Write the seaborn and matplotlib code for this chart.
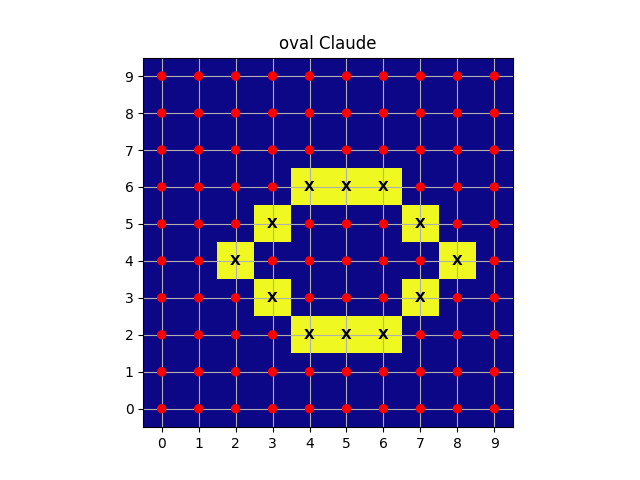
import numpy as np
import pandas as pd
import matplotlib
matplotlib.use("Agg")
import matplotlib.pyplot as plt
import seaborn as sns

# cells that are "on" in the 10x10 grid
on_x = [4, 5, 6, 3, 7, 2, 8, 3, 7, 4, 5, 6]
on_y = [6, 6, 6, 5, 5, 4, 4, 3, 3, 2, 2, 2]
size = 10

grid = np.zeros((size, size))
for x, y in zip(on_x, on_y):
    grid[y, x] = 1

xs, ys = np.meshgrid(np.arange(size), np.arange(size))
df = pd.DataFrame({"x": xs.ravel(), "y": ys.ravel(), "v": grid.ravel()})
off = df[df["v"] == 0]

fig, ax = plt.subplots(figsize=(6.4, 4.8), dpi=100)
ax.imshow(grid, cmap="plasma", origin="lower")
sns.scatterplot(data=off, x="x", y="y", color="red", s=45, edgecolor="none",
                zorder=3, ax=ax, legend=False)
for x, y in zip(on_x, on_y):
    ax.text(x, y, "X", ha="center", va="center", fontweight="bold", color="black", zorder=4)

ax.set_xticks(range(size))
ax.set_yticks(range(size))
ax.set_xlim(-0.5, size - 0.5)
ax.set_ylim(-0.5, size - 0.5)
ax.grid(True)
ax.set_xlabel("")
ax.set_ylabel("")
ax.set_title("oval Claude")
fig.savefig("out.png")
